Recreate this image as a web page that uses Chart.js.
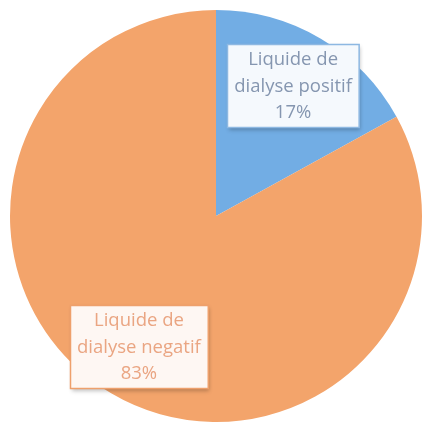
<!DOCTYPE html>
<html>
<head>
<meta charset="utf-8">
<script src="https://cdn.jsdelivr.net/npm/chart.js@4/dist/chart.umd.min.js"></script>
<style>
  html, body { margin: 0; padding: 0; background: #ffffff; }
  #dialyseChart { display: block; }
</style>
</head>
<body>
<canvas id="dialyseChart" width="423" height="425"></canvas>
<script>
const categories = ['Liquide de dialyse positif', 'Liquide de dialyse negatif'];
const labelLines = [['Liquide de', 'dialyse positif'], ['Liquide de', 'dialyse negatif']];
const values = [17, 83];
const sliceColors = ['#72ade4', '#f3a46b'];
const boxBorders = ['#8db8e2', '#eea06c'];
const textColors = ['#8596b0', '#eaa582'];

// white callout boxes placed along each slice's middle angle
const calloutPlugin = {
    id: 'callouts',
    afterDatasetsDraw(chart) {
        const ctx = chart.ctx;
        const meta = chart.getDatasetMeta(0);
        const total = values.reduce((a, b) => a + b, 0);
        ctx.save();
        ctx.font = '18.5px "Open Sans", Lato, sans-serif';
        ctx.textAlign = 'center';
        ctx.textBaseline = 'middle';
        meta.data.forEach((arc, i) => {
            const mid = (arc.startAngle + arc.endAngle) / 2;
            const dist = arc.outerRadius * 0.735;
            const cx = arc.x + Math.cos(mid) * dist;
            const cy = arc.y + Math.sin(mid) * dist;
            const lines = labelLines[i].concat([Math.round(values[i] / total * 100) + '%']);
            const lineH = 26.5;
            const w = Math.max(...lines.map(l => ctx.measureText(l).width)) + 14;
            const h = 83;
            const x = Math.round(cx - w / 2) + 0.5;
            const y = Math.round(cy - h / 2) + 0.5;

            ctx.shadowColor = 'rgba(0,0,0,0.25)';
            ctx.shadowBlur = 4;
            ctx.shadowOffsetX = 1;
            ctx.shadowOffsetY = 2;
            ctx.fillStyle = '#ffffff';
            ctx.fillRect(x, y, w, h);
            ctx.shadowColor = 'transparent';
            ctx.fillStyle = i === 0 ? '#f5f9fd' : '#fef7f3';
            ctx.fillRect(x, y, w, h);
            ctx.lineWidth = 1.5;
            ctx.strokeStyle = boxBorders[i];
            ctx.strokeRect(x, y, w, h);

            ctx.fillStyle = textColors[i];
            lines.forEach((line, k) => {
                ctx.fillText(line, cx, cy + 1 - (lines.length - 1) * lineH / 2 + k * lineH);
            });
        });
        ctx.restore();
    }
};

const canvas = document.getElementById('dialyseChart');
new Chart(canvas.getContext('2d'), {
    type: 'pie',
    data: {
        labels: categories,
        datasets: [
            {
                data: values,
                backgroundColor: sliceColors,
                borderWidth: 0
            }
        ]
    },
    options: {
        responsive: false,
        animation: false,
        layout: {
            padding: { left: 10, top: 10, right: 1, bottom: 3 }
        },
        plugins: {
            legend: { display: false },
            tooltip: { enabled: false }
        }
    },
    plugins: [calloutPlugin]
});
</script>
</body>
</html>
